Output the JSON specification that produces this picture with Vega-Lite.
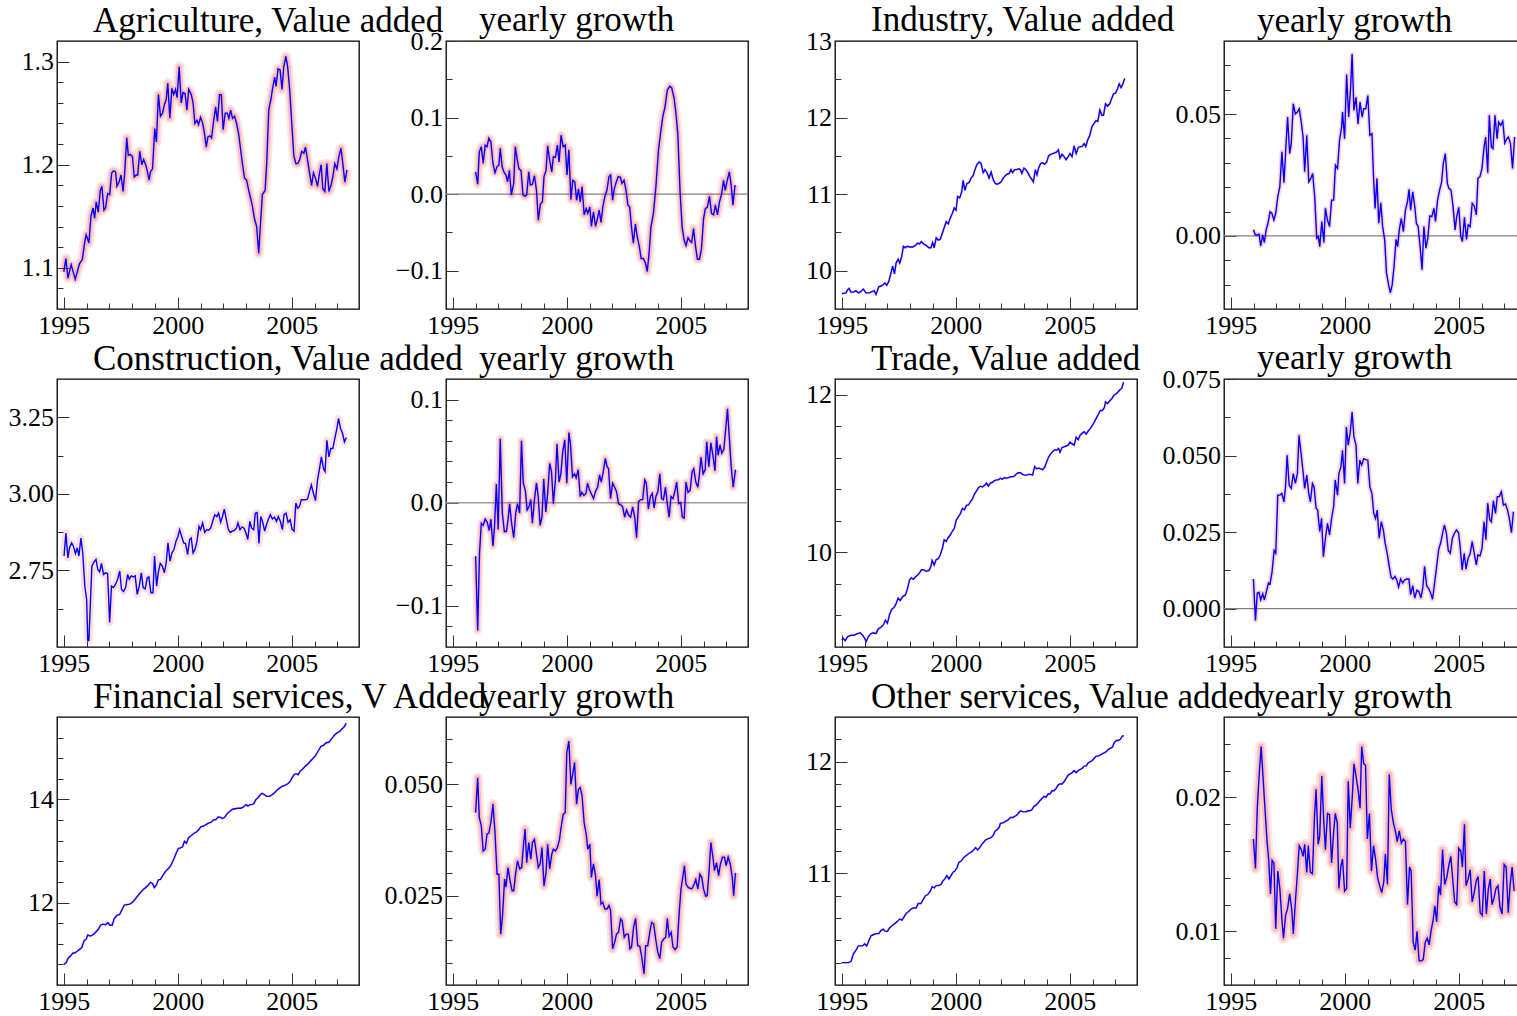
{
  "$schema": "https://vega.github.io/schema/vega-lite/v6.json",
  "padding": {"left": 7, "top": 2, "right": 0, "bottom": 0},
  "background": "white",
  "columns": 4,
  "spacing": {"row": 70, "column": 87},
  "bounds": "flush",
  "config": {
    "font": "Liberation Serif",
    "view": {"stroke": "#000", "strokeWidth": 1.3},
    "axis": {"domain": false, "grid": false, "labelFont": "Liberation Serif", "labelFontSize": 26, "labelColor": "#000", "tickColor": "#333", "tickWidth": 1, "labelFlush": false, "labelOverlap": false, "title": null, "tickCount": 100, "tickMinStep": 0.0001},
    "axisY": {"labelPadding": 15.5},
    "axisX": {"labelPadding": 15.5, "labelBaseline": "top"},
    "title": {"font": "Liberation Serif", "fontSize": 35, "fontWeight": "normal", "color": "#000", "anchor": "start", "frame": "group", "baseline": "alphabetic", "offset": 0}
  },
  "datasets": {
    "A": [{"t":1995.00,"v":1.096},{"t":1995.09,"v":1.109},{"t":1995.18,"v":1.090},{"t":1995.32,"v":1.103},{"t":1995.50,"v":1.089},{"t":1995.69,"v":1.104},{"t":1995.81,"v":1.108},{"t":1995.91,"v":1.124},{"t":1995.98,"v":1.132},{"t":1996.10,"v":1.124},{"t":1996.19,"v":1.150},{"t":1996.28,"v":1.158},{"t":1996.35,"v":1.148},{"t":1996.42,"v":1.164},{"t":1996.51,"v":1.154},{"t":1996.60,"v":1.175},{"t":1996.67,"v":1.179},{"t":1996.76,"v":1.156},{"t":1996.83,"v":1.158},{"t":1996.92,"v":1.172},{"t":1997.01,"v":1.171},{"t":1997.10,"v":1.192},{"t":1997.18,"v":1.194},{"t":1997.27,"v":1.193},{"t":1997.33,"v":1.179},{"t":1997.42,"v":1.183},{"t":1997.51,"v":1.190},{"t":1997.60,"v":1.174},{"t":1997.67,"v":1.192},{"t":1997.76,"v":1.226},{"t":1997.83,"v":1.209},{"t":1997.92,"v":1.210},{"t":1998.01,"v":1.208},{"t":1998.09,"v":1.188},{"t":1998.18,"v":1.190},{"t":1998.24,"v":1.190},{"t":1998.33,"v":1.213},{"t":1998.42,"v":1.200},{"t":1998.50,"v":1.205},{"t":1998.59,"v":1.200},{"t":1998.67,"v":1.193},{"t":1998.74,"v":1.185},{"t":1998.80,"v":1.193},{"t":1998.89,"v":1.196},{"t":1998.99,"v":1.235},{"t":1999.06,"v":1.222},{"t":1999.15,"v":1.268},{"t":1999.24,"v":1.247},{"t":1999.33,"v":1.250},{"t":1999.41,"v":1.258},{"t":1999.49,"v":1.263},{"t":1999.56,"v":1.279},{"t":1999.65,"v":1.245},{"t":1999.74,"v":1.274},{"t":1999.82,"v":1.268},{"t":1999.90,"v":1.273},{"t":1999.97,"v":1.265},{"t":2000.06,"v":1.295},{"t":2000.15,"v":1.260},{"t":2000.23,"v":1.270},{"t":2000.32,"v":1.269},{"t":2000.40,"v":1.253},{"t":2000.48,"v":1.273},{"t":2000.59,"v":1.268},{"t":2000.67,"v":1.260},{"t":2000.75,"v":1.240},{"t":2000.84,"v":1.243},{"t":2000.91,"v":1.239},{"t":2001.00,"v":1.246},{"t":2001.09,"v":1.240},{"t":2001.16,"v":1.232},{"t":2001.25,"v":1.217},{"t":2001.32,"v":1.227},{"t":2001.41,"v":1.228},{"t":2001.48,"v":1.226},{"t":2001.57,"v":1.242},{"t":2001.66,"v":1.256},{"t":2001.74,"v":1.242},{"t":2001.83,"v":1.268},{"t":2001.91,"v":1.268},{"t":2001.99,"v":1.234},{"t":2002.08,"v":1.250},{"t":2002.17,"v":1.250},{"t":2002.24,"v":1.245},{"t":2002.32,"v":1.253},{"t":2002.40,"v":1.245},{"t":2002.49,"v":1.247},{"t":2002.58,"v":1.240},{"t":2002.67,"v":1.230},{"t":2002.76,"v":1.214},{"t":2002.84,"v":1.200},{"t":2002.93,"v":1.187},{"t":2003.02,"v":1.185},{"t":2003.11,"v":1.175},{"t":2003.20,"v":1.167},{"t":2003.28,"v":1.159},{"t":2003.36,"v":1.148},{"t":2003.46,"v":1.140},{"t":2003.55,"v":1.114},{"t":2003.62,"v":1.140},{"t":2003.71,"v":1.171},{"t":2003.83,"v":1.175},{"t":2003.90,"v":1.201},{"t":2003.99,"v":1.253},{"t":2004.08,"v":1.263},{"t":2004.16,"v":1.274},{"t":2004.25,"v":1.285},{"t":2004.31,"v":1.276},{"t":2004.40,"v":1.293},{"t":2004.49,"v":1.292},{"t":2004.57,"v":1.273},{"t":2004.65,"v":1.295},{"t":2004.74,"v":1.305},{"t":2004.82,"v":1.295},{"t":2004.91,"v":1.272},{"t":2005.00,"v":1.240},{"t":2005.09,"v":1.209},{"t":2005.18,"v":1.201},{"t":2005.26,"v":1.201},{"t":2005.35,"v":1.205},{"t":2005.44,"v":1.213},{"t":2005.53,"v":1.211},{"t":2005.60,"v":1.217},{"t":2005.69,"v":1.205},{"t":2005.78,"v":1.192},{"t":2005.87,"v":1.180},{"t":2005.95,"v":1.192},{"t":2006.04,"v":1.187},{"t":2006.13,"v":1.179},{"t":2006.22,"v":1.192},{"t":2006.29,"v":1.200},{"t":2006.36,"v":1.177},{"t":2006.45,"v":1.174},{"t":2006.54,"v":1.201},{"t":2006.63,"v":1.174},{"t":2006.72,"v":1.180},{"t":2006.80,"v":1.188},{"t":2006.89,"v":1.201},{"t":2006.98,"v":1.196},{"t":2007.07,"v":1.208},{"t":2007.16,"v":1.216},{"t":2007.24,"v":1.201},{"t":2007.33,"v":1.183},{"t":2007.42,"v":1.195}],
    "AG": [{"t":1996.00,"v":0.029},{"t":1996.09,"v":0.013},{"t":1996.16,"v":0.055},{"t":1996.25,"v":0.062},{"t":1996.33,"v":0.040},{"t":1996.42,"v":0.064},{"t":1996.50,"v":0.062},{"t":1996.58,"v":0.073},{"t":1996.67,"v":0.068},{"t":1996.76,"v":0.040},{"t":1996.85,"v":0.028},{"t":1996.94,"v":0.036},{"t":1997.02,"v":0.038},{"t":1997.08,"v":0.060},{"t":1997.16,"v":0.036},{"t":1997.24,"v":0.029},{"t":1997.33,"v":0.025},{"t":1997.40,"v":0.016},{"t":1997.48,"v":0.031},{"t":1997.57,"v":-0.001},{"t":1997.67,"v":0.014},{"t":1997.74,"v":0.062},{"t":1997.83,"v":0.044},{"t":1997.90,"v":0.033},{"t":1997.99,"v":0.031},{"t":1998.08,"v":-0.001},{"t":1998.17,"v":-0.003},{"t":1998.24,"v":-0.001},{"t":1998.33,"v":0.029},{"t":1998.40,"v":0.012},{"t":1998.49,"v":0.013},{"t":1998.58,"v":0.024},{"t":1998.67,"v":0.005},{"t":1998.75,"v":-0.034},{"t":1998.84,"v":-0.013},{"t":1998.93,"v":-0.010},{"t":1999.00,"v":0.023},{"t":1999.09,"v":0.031},{"t":1999.16,"v":0.063},{"t":1999.25,"v":0.044},{"t":1999.34,"v":0.029},{"t":1999.41,"v":0.049},{"t":1999.50,"v":0.048},{"t":1999.59,"v":0.064},{"t":1999.66,"v":0.042},{"t":1999.75,"v":0.077},{"t":1999.84,"v":0.062},{"t":1999.93,"v":0.064},{"t":2000.01,"v":0.025},{"t":2000.09,"v":0.058},{"t":2000.18,"v":-0.007},{"t":2000.26,"v":0.018},{"t":2000.35,"v":0.016},{"t":2000.43,"v":-0.008},{"t":2000.51,"v":0.007},{"t":2000.59,"v":-0.010},{"t":2000.67,"v":0.010},{"t":2000.76,"v":-0.027},{"t":2000.85,"v":-0.019},{"t":2000.92,"v":-0.025},{"t":2001.01,"v":-0.017},{"t":2001.08,"v":-0.042},{"t":2001.17,"v":-0.023},{"t":2001.26,"v":-0.042},{"t":2001.33,"v":-0.034},{"t":2001.42,"v":-0.021},{"t":2001.50,"v":-0.037},{"t":2001.58,"v":-0.017},{"t":2001.67,"v":-0.003},{"t":2001.76,"v":0.005},{"t":2001.85,"v":0.023},{"t":2001.92,"v":0.025},{"t":2002.01,"v":-0.008},{"t":2002.08,"v":0.007},{"t":2002.17,"v":0.016},{"t":2002.26,"v":0.023},{"t":2002.35,"v":0.022},{"t":2002.42,"v":0.014},{"t":2002.51,"v":0.018},{"t":2002.60,"v":0.005},{"t":2002.68,"v":-0.014},{"t":2002.76,"v":-0.017},{"t":2002.84,"v":-0.043},{"t":2002.92,"v":-0.064},{"t":2003.01,"v":-0.039},{"t":2003.09,"v":-0.056},{"t":2003.18,"v":-0.068},{"t":2003.26,"v":-0.084},{"t":2003.36,"v":-0.084},{"t":2003.45,"v":-0.090},{"t":2003.53,"v":-0.101},{"t":2003.61,"v":-0.077},{"t":2003.69,"v":-0.043},{"t":2003.80,"v":-0.025},{"t":2003.91,"v":0.010},{"t":2004.02,"v":0.057},{"t":2004.12,"v":0.081},{"t":2004.21,"v":0.101},{"t":2004.31,"v":0.114},{"t":2004.41,"v":0.136},{"t":2004.52,"v":0.141},{"t":2004.60,"v":0.139},{"t":2004.71,"v":0.125},{"t":2004.79,"v":0.105},{"t":2004.87,"v":0.079},{"t":2004.97,"v":0.003},{"t":2005.06,"v":-0.043},{"t":2005.15,"v":-0.060},{"t":2005.23,"v":-0.067},{"t":2005.32,"v":-0.057},{"t":2005.40,"v":-0.061},{"t":2005.48,"v":-0.063},{"t":2005.56,"v":-0.045},{"t":2005.65,"v":-0.069},{"t":2005.73,"v":-0.085},{"t":2005.82,"v":-0.085},{"t":2005.91,"v":-0.071},{"t":2006.00,"v":-0.032},{"t":2006.08,"v":-0.019},{"t":2006.17,"v":-0.017},{"t":2006.26,"v":-0.003},{"t":2006.35,"v":-0.025},{"t":2006.44,"v":-0.027},{"t":2006.52,"v":-0.014},{"t":2006.61,"v":-0.027},{"t":2006.70,"v":-0.010},{"t":2006.79,"v":0.000},{"t":2006.88,"v":0.018},{"t":2006.95,"v":0.005},{"t":2007.04,"v":0.018},{"t":2007.13,"v":0.029},{"t":2007.21,"v":0.012},{"t":2007.29,"v":-0.014},{"t":2007.38,"v":0.012}],
    "I": [{"t":1995.00,"v":9.70},{"t":1995.18,"v":9.71},{"t":1995.25,"v":9.75},{"t":1995.32,"v":9.77},{"t":1995.40,"v":9.72},{"t":1995.51,"v":9.72},{"t":1995.62,"v":9.74},{"t":1995.73,"v":9.71},{"t":1995.84,"v":9.73},{"t":1995.94,"v":9.76},{"t":1996.06,"v":9.71},{"t":1996.20,"v":9.71},{"t":1996.35,"v":9.73},{"t":1996.42,"v":9.74},{"t":1996.50,"v":9.69},{"t":1996.62,"v":9.79},{"t":1996.72,"v":9.80},{"t":1996.82,"v":9.82},{"t":1996.89,"v":9.84},{"t":1996.97,"v":9.81},{"t":1997.06,"v":9.86},{"t":1997.14,"v":9.95},{"t":1997.23,"v":10.06},{"t":1997.31,"v":9.96},{"t":1997.38,"v":10.10},{"t":1997.47,"v":10.15},{"t":1997.54,"v":10.10},{"t":1997.63,"v":10.19},{"t":1997.70,"v":10.32},{"t":1997.78,"v":10.30},{"t":1997.86,"v":10.32},{"t":1997.97,"v":10.31},{"t":1998.11,"v":10.31},{"t":1998.23,"v":10.33},{"t":1998.32,"v":10.36},{"t":1998.41,"v":10.35},{"t":1998.49,"v":10.38},{"t":1998.58,"v":10.35},{"t":1998.70,"v":10.33},{"t":1998.82,"v":10.30},{"t":1998.91,"v":10.30},{"t":1998.98,"v":10.37},{"t":1999.05,"v":10.30},{"t":1999.14,"v":10.43},{"t":1999.23,"v":10.40},{"t":1999.32,"v":10.41},{"t":1999.41,"v":10.49},{"t":1999.49,"v":10.56},{"t":1999.58,"v":10.64},{"t":1999.67,"v":10.61},{"t":1999.76,"v":10.69},{"t":1999.85,"v":10.75},{"t":1999.93,"v":10.82},{"t":2000.01,"v":10.79},{"t":2000.08,"v":10.97},{"t":2000.17,"v":10.95},{"t":2000.26,"v":11.03},{"t":2000.32,"v":11.18},{"t":2000.40,"v":11.05},{"t":2000.49,"v":11.14},{"t":2000.58,"v":11.15},{"t":2000.67,"v":11.21},{"t":2000.76,"v":11.24},{"t":2000.84,"v":11.32},{"t":2000.93,"v":11.39},{"t":2001.02,"v":11.42},{"t":2001.11,"v":11.40},{"t":2001.20,"v":11.28},{"t":2001.28,"v":11.32},{"t":2001.37,"v":11.28},{"t":2001.46,"v":11.21},{"t":2001.55,"v":11.29},{"t":2001.64,"v":11.19},{"t":2001.73,"v":11.14},{"t":2001.81,"v":11.13},{"t":2001.90,"v":11.14},{"t":2001.99,"v":11.16},{"t":2002.08,"v":11.21},{"t":2002.17,"v":11.24},{"t":2002.25,"v":11.26},{"t":2002.34,"v":11.27},{"t":2002.42,"v":11.32},{"t":2002.49,"v":11.28},{"t":2002.58,"v":11.32},{"t":2002.67,"v":11.32},{"t":2002.75,"v":11.33},{"t":2002.83,"v":11.32},{"t":2002.90,"v":11.27},{"t":2002.99,"v":11.34},{"t":2003.08,"v":11.32},{"t":2003.16,"v":11.28},{"t":2003.25,"v":11.23},{"t":2003.34,"v":11.19},{"t":2003.40,"v":11.16},{"t":2003.49,"v":11.32},{"t":2003.56,"v":11.25},{"t":2003.63,"v":11.34},{"t":2003.72,"v":11.40},{"t":2003.81,"v":11.41},{"t":2003.90,"v":11.39},{"t":2003.99,"v":11.42},{"t":2004.07,"v":11.50},{"t":2004.16,"v":11.52},{"t":2004.25,"v":11.53},{"t":2004.34,"v":11.54},{"t":2004.43,"v":11.55},{"t":2004.50,"v":11.58},{"t":2004.57,"v":11.47},{"t":2004.66,"v":11.52},{"t":2004.75,"v":11.49},{"t":2004.84,"v":11.45},{"t":2004.93,"v":11.49},{"t":2005.01,"v":11.53},{"t":2005.10,"v":11.49},{"t":2005.19,"v":11.63},{"t":2005.28,"v":11.53},{"t":2005.37,"v":11.61},{"t":2005.46,"v":11.62},{"t":2005.54,"v":11.62},{"t":2005.63,"v":11.66},{"t":2005.70,"v":11.62},{"t":2005.79,"v":11.71},{"t":2005.88,"v":11.77},{"t":2005.97,"v":11.88},{"t":2006.06,"v":11.92},{"t":2006.15,"v":11.96},{"t":2006.23,"v":11.95},{"t":2006.32,"v":12.10},{"t":2006.41,"v":12.03},{"t":2006.48,"v":12.03},{"t":2006.57,"v":12.18},{"t":2006.66,"v":12.15},{"t":2006.75,"v":12.18},{"t":2006.84,"v":12.25},{"t":2006.92,"v":12.31},{"t":2007.01,"v":12.32},{"t":2007.10,"v":12.38},{"t":2007.17,"v":12.44},{"t":2007.25,"v":12.39},{"t":2007.33,"v":12.44},{"t":2007.41,"v":12.51}],
    "IG": [{"t":1995.99,"v":0.0025},{"t":1996.08,"v":0.0004},{"t":1996.16,"v":0.0004},{"t":1996.24,"v":0.0007},{"t":1996.31,"v":-0.0041},{"t":1996.40,"v":0.0004},{"t":1996.47,"v":-0.0027},{"t":1996.55,"v":0.0025},{"t":1996.63,"v":0.0052},{"t":1996.72,"v":0.0099},{"t":1996.80,"v":0.0093},{"t":1996.89,"v":0.0065},{"t":1996.97,"v":0.0093},{"t":1997.06,"v":0.0161},{"t":1997.15,"v":0.0202},{"t":1997.24,"v":0.0345},{"t":1997.33,"v":0.0218},{"t":1997.40,"v":0.0338},{"t":1997.49,"v":0.0488},{"t":1997.58,"v":0.0338},{"t":1997.65,"v":0.0379},{"t":1997.74,"v":0.0542},{"t":1997.83,"v":0.0501},{"t":1997.92,"v":0.0508},{"t":1998.00,"v":0.0522},{"t":1998.09,"v":0.0467},{"t":1998.17,"v":0.0406},{"t":1998.24,"v":0.0263},{"t":1998.33,"v":0.0413},{"t":1998.42,"v":0.0222},{"t":1998.51,"v":0.0236},{"t":1998.59,"v":0.0256},{"t":1998.68,"v":0.0161},{"t":1998.77,"v":-0.0010},{"t":1998.84,"v":-0.0003},{"t":1998.90,"v":-0.0044},{"t":1998.99,"v":0.0059},{"t":1999.08,"v":-0.0027},{"t":1999.15,"v":0.0113},{"t":1999.24,"v":0.0065},{"t":1999.33,"v":0.0038},{"t":1999.42,"v":0.0147},{"t":1999.51,"v":0.0147},{"t":1999.59,"v":0.0290},{"t":1999.68,"v":0.0277},{"t":1999.77,"v":0.0392},{"t":1999.86,"v":0.0447},{"t":1999.90,"v":0.0508},{"t":1999.99,"v":0.0399},{"t":2000.08,"v":0.0662},{"t":2000.17,"v":0.0488},{"t":2000.26,"v":0.0617},{"t":2000.32,"v":0.0747},{"t":2000.40,"v":0.0515},{"t":2000.49,"v":0.0569},{"t":2000.58,"v":0.0460},{"t":2000.67,"v":0.0549},{"t":2000.76,"v":0.0488},{"t":2000.83,"v":0.0522},{"t":2000.92,"v":0.0522},{"t":2001.01,"v":0.0576},{"t":2001.10,"v":0.0413},{"t":2001.19,"v":0.0420},{"t":2001.26,"v":0.0243},{"t":2001.33,"v":0.0113},{"t":2001.41,"v":0.0236},{"t":2001.49,"v":0.0052},{"t":2001.58,"v":0.0136},{"t":2001.66,"v":0.0038},{"t":2001.75,"v":-0.0016},{"t":2001.83,"v":-0.0153},{"t":2001.92,"v":-0.0200},{"t":2002.00,"v":-0.0234},{"t":2002.08,"v":-0.0200},{"t":2002.16,"v":-0.0125},{"t":2002.25,"v":-0.0014},{"t":2002.32,"v":-0.0044},{"t":2002.39,"v":0.0025},{"t":2002.48,"v":0.0072},{"t":2002.57,"v":0.0018},{"t":2002.66,"v":0.0106},{"t":2002.75,"v":0.0140},{"t":2002.82,"v":0.0191},{"t":2002.89,"v":0.0106},{"t":2002.98,"v":0.0181},{"t":2003.07,"v":0.0120},{"t":2003.14,"v":0.0052},{"t":2003.22,"v":0.0038},{"t":2003.31,"v":-0.0050},{"t":2003.39,"v":-0.0139},{"t":2003.47,"v":0.0038},{"t":2003.56,"v":-0.0050},{"t":2003.64,"v":-0.0010},{"t":2003.73,"v":0.0082},{"t":2003.82,"v":0.0079},{"t":2003.91,"v":0.0113},{"t":2003.98,"v":0.0059},{"t":2004.07,"v":0.0147},{"t":2004.16,"v":0.0188},{"t":2004.25,"v":0.0222},{"t":2004.32,"v":0.0297},{"t":2004.41,"v":0.0338},{"t":2004.50,"v":0.0215},{"t":2004.57,"v":0.0195},{"t":2004.66,"v":0.0188},{"t":2004.75,"v":0.0120},{"t":2004.84,"v":0.0025},{"t":2004.91,"v":0.0079},{"t":2005.00,"v":0.0117},{"t":2005.09,"v":-0.0003},{"t":2005.16,"v":-0.0023},{"t":2005.25,"v":0.0076},{"t":2005.34,"v":-0.0014},{"t":2005.41,"v":0.0045},{"t":2005.50,"v":0.0038},{"t":2005.59,"v":0.0134},{"t":2005.68,"v":0.0123},{"t":2005.77,"v":0.0086},{"t":2005.84,"v":0.0236},{"t":2005.93,"v":0.0243},{"t":2006.02,"v":0.0277},{"t":2006.11,"v":0.0365},{"t":2006.18,"v":0.0406},{"t":2006.27,"v":0.0259},{"t":2006.34,"v":0.0495},{"t":2006.43,"v":0.0365},{"t":2006.50,"v":0.0358},{"t":2006.59,"v":0.0495},{"t":2006.68,"v":0.0399},{"t":2006.75,"v":0.0467},{"t":2006.84,"v":0.0454},{"t":2006.93,"v":0.0471},{"t":2007.02,"v":0.0381},{"t":2007.11,"v":0.0399},{"t":2007.18,"v":0.0406},{"t":2007.27,"v":0.0379},{"t":2007.36,"v":0.0277},{"t":2007.45,"v":0.0406}],
    "C": [{"t":1995.01,"v":2.797},{"t":1995.09,"v":2.872},{"t":1995.18,"v":2.791},{"t":1995.25,"v":2.824},{"t":1995.34,"v":2.840},{"t":1995.42,"v":2.829},{"t":1995.51,"v":2.805},{"t":1995.59,"v":2.824},{"t":1995.66,"v":2.797},{"t":1995.75,"v":2.856},{"t":1995.83,"v":2.807},{"t":1995.92,"v":2.699},{"t":1996.00,"v":2.656},{"t":1996.05,"v":2.521},{"t":1996.10,"v":2.521},{"t":1996.16,"v":2.634},{"t":1996.23,"v":2.764},{"t":1996.32,"v":2.777},{"t":1996.41,"v":2.786},{"t":1996.49,"v":2.753},{"t":1996.57,"v":2.745},{"t":1996.65,"v":2.773},{"t":1996.74,"v":2.737},{"t":1996.83,"v":2.742},{"t":1996.92,"v":2.740},{"t":1997.01,"v":2.580},{"t":1997.09,"v":2.699},{"t":1997.18,"v":2.694},{"t":1997.27,"v":2.705},{"t":1997.36,"v":2.721},{"t":1997.45,"v":2.748},{"t":1997.53,"v":2.688},{"t":1997.62,"v":2.681},{"t":1997.71,"v":2.694},{"t":1997.80,"v":2.737},{"t":1997.87,"v":2.721},{"t":1997.96,"v":2.732},{"t":1998.05,"v":2.729},{"t":1998.13,"v":2.732},{"t":1998.22,"v":2.672},{"t":1998.31,"v":2.699},{"t":1998.40,"v":2.742},{"t":1998.48,"v":2.694},{"t":1998.57,"v":2.690},{"t":1998.66,"v":2.726},{"t":1998.73,"v":2.729},{"t":1998.82,"v":2.677},{"t":1998.91,"v":2.677},{"t":1998.98,"v":2.797},{"t":1999.07,"v":2.699},{"t":1999.14,"v":2.742},{"t":1999.23,"v":2.773},{"t":1999.32,"v":2.764},{"t":1999.41,"v":2.742},{"t":1999.49,"v":2.775},{"t":1999.57,"v":2.840},{"t":1999.66,"v":2.780},{"t":1999.74,"v":2.807},{"t":1999.83,"v":2.818},{"t":1999.92,"v":2.845},{"t":2000.01,"v":2.861},{"t":2000.08,"v":2.883},{"t":2000.17,"v":2.861},{"t":2000.26,"v":2.840},{"t":2000.34,"v":2.838},{"t":2000.43,"v":2.802},{"t":2000.52,"v":2.851},{"t":2000.59,"v":2.856},{"t":2000.67,"v":2.807},{"t":2000.75,"v":2.818},{"t":2000.84,"v":2.845},{"t":2000.93,"v":2.894},{"t":2001.00,"v":2.883},{"t":2001.09,"v":2.905},{"t":2001.18,"v":2.874},{"t":2001.27,"v":2.883},{"t":2001.35,"v":2.881},{"t":2001.44,"v":2.888},{"t":2001.53,"v":2.910},{"t":2001.62,"v":2.932},{"t":2001.71,"v":2.926},{"t":2001.79,"v":2.937},{"t":2001.88,"v":2.907},{"t":2001.96,"v":2.926},{"t":2002.04,"v":2.950},{"t":2002.13,"v":2.916},{"t":2002.22,"v":2.883},{"t":2002.31,"v":2.874},{"t":2002.39,"v":2.878},{"t":2002.48,"v":2.881},{"t":2002.57,"v":2.888},{"t":2002.64,"v":2.905},{"t":2002.73,"v":2.883},{"t":2002.82,"v":2.892},{"t":2002.91,"v":2.888},{"t":2002.99,"v":2.872},{"t":2003.07,"v":2.851},{"t":2003.16,"v":2.910},{"t":2003.24,"v":2.888},{"t":2003.33,"v":2.883},{"t":2003.40,"v":2.937},{"t":2003.48,"v":2.939},{"t":2003.56,"v":2.838},{"t":2003.64,"v":2.926},{"t":2003.73,"v":2.907},{"t":2003.81,"v":2.878},{"t":2003.89,"v":2.899},{"t":2003.97,"v":2.916},{"t":2004.06,"v":2.932},{"t":2004.15,"v":2.918},{"t":2004.24,"v":2.924},{"t":2004.33,"v":2.910},{"t":2004.41,"v":2.926},{"t":2004.50,"v":2.910},{"t":2004.59,"v":2.883},{"t":2004.66,"v":2.932},{"t":2004.75,"v":2.937},{"t":2004.84,"v":2.907},{"t":2004.93,"v":2.916},{"t":2005.01,"v":2.885},{"t":2005.10,"v":2.878},{"t":2005.18,"v":2.970},{"t":2005.26,"v":2.953},{"t":2005.34,"v":2.959},{"t":2005.42,"v":2.981},{"t":2005.51,"v":2.981},{"t":2005.60,"v":2.981},{"t":2005.69,"v":2.983},{"t":2005.78,"v":3.008},{"t":2005.86,"v":3.029},{"t":2005.95,"v":3.002},{"t":2006.04,"v":2.978},{"t":2006.13,"v":3.045},{"t":2006.22,"v":3.083},{"t":2006.30,"v":3.121},{"t":2006.39,"v":3.083},{"t":2006.46,"v":3.073},{"t":2006.54,"v":3.175},{"t":2006.63,"v":3.121},{"t":2006.71,"v":3.148},{"t":2006.80,"v":3.148},{"t":2006.89,"v":3.181},{"t":2006.98,"v":3.213},{"t":2007.05,"v":3.246},{"t":2007.14,"v":3.213},{"t":2007.23,"v":3.197},{"t":2007.31,"v":3.170},{"t":2007.40,"v":3.184}],
    "CG": [{"t":1996.00,"v":-0.052},{"t":1996.09,"v":-0.124},{"t":1996.17,"v":-0.049},{"t":1996.25,"v":-0.020},{"t":1996.33,"v":-0.022},{"t":1996.42,"v":-0.016},{"t":1996.51,"v":-0.019},{"t":1996.60,"v":-0.027},{"t":1996.67,"v":-0.016},{"t":1996.76,"v":-0.042},{"t":1996.83,"v":-0.023},{"t":1996.91,"v":0.018},{"t":1996.99,"v":-0.026},{"t":1997.08,"v":0.062},{"t":1997.17,"v":-0.010},{"t":1997.26,"v":-0.028},{"t":1997.35,"v":-0.028},{"t":1997.42,"v":-0.017},{"t":1997.49,"v":-0.001},{"t":1997.58,"v":-0.020},{"t":1997.67,"v":-0.034},{"t":1997.76,"v":-0.010},{"t":1997.84,"v":-0.001},{"t":1997.93,"v":-0.010},{"t":1998.01,"v":0.060},{"t":1998.09,"v":0.019},{"t":1998.18,"v":0.012},{"t":1998.26,"v":-0.007},{"t":1998.34,"v":-0.004},{"t":1998.42,"v":0.003},{"t":1998.49,"v":-0.020},{"t":1998.58,"v":0.003},{"t":1998.67,"v":0.019},{"t":1998.74,"v":0.007},{"t":1998.83,"v":-0.022},{"t":1998.91,"v":-0.014},{"t":1998.99,"v":0.023},{"t":1999.08,"v":-0.009},{"t":1999.16,"v":0.009},{"t":1999.25,"v":0.038},{"t":1999.33,"v":0.030},{"t":1999.41,"v":-0.001},{"t":1999.50,"v":0.022},{"t":1999.57,"v":0.057},{"t":1999.66,"v":0.020},{"t":1999.74,"v":0.028},{"t":1999.82,"v":0.049},{"t":1999.91,"v":0.061},{"t":2000.00,"v":0.019},{"t":2000.09,"v":0.068},{"t":2000.16,"v":0.057},{"t":2000.25,"v":0.025},{"t":2000.34,"v":0.028},{"t":2000.41,"v":0.024},{"t":2000.50,"v":0.032},{"t":2000.59,"v":0.006},{"t":2000.66,"v":0.010},{"t":2000.75,"v":0.007},{"t":2000.84,"v":0.009},{"t":2000.91,"v":0.019},{"t":2001.00,"v":0.012},{"t":2001.09,"v":0.008},{"t":2001.17,"v":0.004},{"t":2001.26,"v":0.011},{"t":2001.35,"v":0.015},{"t":2001.44,"v":0.027},{"t":2001.51,"v":0.020},{"t":2001.60,"v":0.030},{"t":2001.69,"v":0.043},{"t":2001.77,"v":0.035},{"t":2001.83,"v":0.033},{"t":2001.92,"v":0.004},{"t":2002.01,"v":0.019},{"t":2002.10,"v":0.015},{"t":2002.18,"v":0.011},{"t":2002.27,"v":-0.001},{"t":2002.36,"v":-0.002},{"t":2002.45,"v":-0.004},{"t":2002.54,"v":-0.014},{"t":2002.62,"v":-0.007},{"t":2002.71,"v":-0.012},{"t":2002.80,"v":-0.014},{"t":2002.89,"v":-0.004},{"t":2002.98,"v":-0.014},{"t":2003.06,"v":-0.034},{"t":2003.15,"v":0.001},{"t":2003.24,"v":0.003},{"t":2003.33,"v":0.003},{"t":2003.42,"v":0.022},{"t":2003.49,"v":0.019},{"t":2003.58,"v":-0.006},{"t":2003.67,"v":0.006},{"t":2003.75,"v":0.009},{"t":2003.83,"v":-0.005},{"t":2003.91,"v":0.006},{"t":2004.00,"v":0.011},{"t":2004.08,"v":0.028},{"t":2004.16,"v":0.004},{"t":2004.24,"v":0.003},{"t":2004.33,"v":0.015},{"t":2004.41,"v":-0.001},{"t":2004.49,"v":-0.014},{"t":2004.57,"v":0.006},{"t":2004.66,"v":0.004},{"t":2004.74,"v":0.011},{"t":2004.82,"v":0.020},{"t":2004.91,"v":-0.001},{"t":2005.00,"v":0.000},{"t":2005.07,"v":-0.014},{"t":2005.15,"v":-0.015},{"t":2005.23,"v":0.020},{"t":2005.32,"v":0.010},{"t":2005.41,"v":0.012},{"t":2005.50,"v":0.030},{"t":2005.57,"v":0.033},{"t":2005.66,"v":0.020},{"t":2005.75,"v":0.015},{"t":2005.82,"v":0.028},{"t":2005.89,"v":0.044},{"t":2005.98,"v":0.028},{"t":2006.07,"v":0.032},{"t":2006.14,"v":0.059},{"t":2006.23,"v":0.035},{"t":2006.32,"v":0.058},{"t":2006.41,"v":0.046},{"t":2006.50,"v":0.031},{"t":2006.57,"v":0.064},{"t":2006.64,"v":0.046},{"t":2006.72,"v":0.056},{"t":2006.80,"v":0.048},{"t":2006.89,"v":0.052},{"t":2006.98,"v":0.073},{"t":2007.05,"v":0.091},{"t":2007.14,"v":0.060},{"t":2007.21,"v":0.036},{"t":2007.30,"v":0.015},{"t":2007.40,"v":0.032}],
    "T": [{"t":1995.00,"v":8.89},{"t":1995.06,"v":8.91},{"t":1995.15,"v":8.88},{"t":1995.25,"v":8.93},{"t":1995.40,"v":8.95},{"t":1995.54,"v":8.95},{"t":1995.69,"v":8.97},{"t":1995.81,"v":8.98},{"t":1995.91,"v":8.95},{"t":1996.00,"v":8.91},{"t":1996.07,"v":8.87},{"t":1996.16,"v":8.93},{"t":1996.28,"v":8.97},{"t":1996.38,"v":8.98},{"t":1996.50,"v":8.97},{"t":1996.60,"v":9.03},{"t":1996.72,"v":9.05},{"t":1996.82,"v":9.08},{"t":1996.91,"v":9.14},{"t":1997.00,"v":9.10},{"t":1997.09,"v":9.21},{"t":1997.19,"v":9.28},{"t":1997.29,"v":9.30},{"t":1997.38,"v":9.35},{"t":1997.47,"v":9.42},{"t":1997.56,"v":9.39},{"t":1997.67,"v":9.44},{"t":1997.79,"v":9.46},{"t":1997.88,"v":9.54},{"t":1997.97,"v":9.65},{"t":1998.05,"v":9.68},{"t":1998.14,"v":9.66},{"t":1998.23,"v":9.69},{"t":1998.32,"v":9.71},{"t":1998.41,"v":9.74},{"t":1998.49,"v":9.78},{"t":1998.58,"v":9.78},{"t":1998.70,"v":9.76},{"t":1998.82,"v":9.77},{"t":1998.91,"v":9.82},{"t":1998.96,"v":9.90},{"t":1999.05,"v":9.84},{"t":1999.14,"v":9.91},{"t":1999.23,"v":9.92},{"t":1999.32,"v":9.97},{"t":1999.41,"v":10.05},{"t":1999.49,"v":10.16},{"t":1999.58,"v":10.14},{"t":1999.67,"v":10.19},{"t":1999.76,"v":10.22},{"t":1999.85,"v":10.27},{"t":1999.93,"v":10.30},{"t":2000.02,"v":10.41},{"t":2000.11,"v":10.45},{"t":2000.20,"v":10.49},{"t":2000.29,"v":10.56},{"t":2000.38,"v":10.54},{"t":2000.47,"v":10.60},{"t":2000.55,"v":10.60},{"t":2000.64,"v":10.64},{"t":2000.73,"v":10.68},{"t":2000.82,"v":10.74},{"t":2000.91,"v":10.78},{"t":2000.99,"v":10.82},{"t":2001.08,"v":10.84},{"t":2001.17,"v":10.83},{"t":2001.26,"v":10.85},{"t":2001.35,"v":10.88},{"t":2001.43,"v":10.84},{"t":2001.52,"v":10.88},{"t":2001.61,"v":10.89},{"t":2001.70,"v":10.91},{"t":2001.79,"v":10.92},{"t":2001.87,"v":10.92},{"t":2001.96,"v":10.94},{"t":2002.05,"v":10.93},{"t":2002.14,"v":10.95},{"t":2002.22,"v":10.94},{"t":2002.31,"v":10.95},{"t":2002.40,"v":10.96},{"t":2002.49,"v":10.96},{"t":2002.58,"v":10.97},{"t":2002.67,"v":11.00},{"t":2002.75,"v":11.01},{"t":2002.84,"v":11.01},{"t":2002.93,"v":10.99},{"t":2003.02,"v":10.98},{"t":2003.11,"v":10.98},{"t":2003.19,"v":10.99},{"t":2003.28,"v":10.99},{"t":2003.37,"v":10.98},{"t":2003.46,"v":11.09},{"t":2003.55,"v":11.06},{"t":2003.63,"v":11.07},{"t":2003.72,"v":11.06},{"t":2003.81,"v":11.05},{"t":2003.90,"v":11.08},{"t":2003.99,"v":11.15},{"t":2004.07,"v":11.21},{"t":2004.16,"v":11.25},{"t":2004.25,"v":11.28},{"t":2004.34,"v":11.30},{"t":2004.43,"v":11.30},{"t":2004.51,"v":11.32},{"t":2004.57,"v":11.27},{"t":2004.66,"v":11.33},{"t":2004.75,"v":11.34},{"t":2004.84,"v":11.35},{"t":2004.93,"v":11.36},{"t":2005.01,"v":11.40},{"t":2005.10,"v":11.38},{"t":2005.19,"v":11.36},{"t":2005.28,"v":11.46},{"t":2005.37,"v":11.43},{"t":2005.46,"v":11.49},{"t":2005.54,"v":11.51},{"t":2005.63,"v":11.53},{"t":2005.72,"v":11.50},{"t":2005.81,"v":11.54},{"t":2005.90,"v":11.57},{"t":2005.99,"v":11.61},{"t":2006.07,"v":11.65},{"t":2006.16,"v":11.70},{"t":2006.25,"v":11.75},{"t":2006.34,"v":11.80},{"t":2006.43,"v":11.80},{"t":2006.52,"v":11.84},{"t":2006.57,"v":11.91},{"t":2006.66,"v":11.89},{"t":2006.75,"v":11.92},{"t":2006.84,"v":11.95},{"t":2006.93,"v":11.99},{"t":2007.02,"v":12.01},{"t":2007.10,"v":12.03},{"t":2007.19,"v":12.06},{"t":2007.28,"v":12.08},{"t":2007.36,"v":12.16}],
    "TG": [{"t":1995.99,"v":0.0097},{"t":1996.08,"v":-0.0038},{"t":1996.16,"v":0.0051},{"t":1996.24,"v":0.0053},{"t":1996.31,"v":0.0029},{"t":1996.40,"v":0.0049},{"t":1996.47,"v":0.0029},{"t":1996.56,"v":0.0056},{"t":1996.65,"v":0.0084},{"t":1996.72,"v":0.0081},{"t":1996.81,"v":0.0121},{"t":1996.90,"v":0.0190},{"t":1996.97,"v":0.0181},{"t":1997.06,"v":0.0371},{"t":1997.15,"v":0.0371},{"t":1997.24,"v":0.0376},{"t":1997.33,"v":0.0349},{"t":1997.40,"v":0.0398},{"t":1997.47,"v":0.0501},{"t":1997.56,"v":0.0403},{"t":1997.65,"v":0.0393},{"t":1997.74,"v":0.0441},{"t":1997.83,"v":0.0409},{"t":1997.92,"v":0.0441},{"t":1997.99,"v":0.0566},{"t":1998.08,"v":0.0507},{"t":1998.17,"v":0.0447},{"t":1998.24,"v":0.0393},{"t":1998.33,"v":0.0436},{"t":1998.42,"v":0.0376},{"t":1998.49,"v":0.0349},{"t":1998.58,"v":0.0409},{"t":1998.65,"v":0.0398},{"t":1998.74,"v":0.0328},{"t":1998.81,"v":0.0322},{"t":1998.90,"v":0.0252},{"t":1998.98,"v":0.0295},{"t":1999.06,"v":0.0170},{"t":1999.15,"v":0.0230},{"t":1999.24,"v":0.0279},{"t":1999.33,"v":0.0241},{"t":1999.42,"v":0.0295},{"t":1999.51,"v":0.0333},{"t":1999.58,"v":0.0420},{"t":1999.68,"v":0.0371},{"t":1999.74,"v":0.0441},{"t":1999.83,"v":0.0463},{"t":1999.90,"v":0.0517},{"t":1999.99,"v":0.0409},{"t":2000.07,"v":0.0593},{"t":2000.15,"v":0.0534},{"t":2000.24,"v":0.0577},{"t":2000.32,"v":0.0642},{"t":2000.40,"v":0.0561},{"t":2000.49,"v":0.0534},{"t":2000.57,"v":0.0409},{"t":2000.66,"v":0.0485},{"t":2000.74,"v":0.0469},{"t":2000.83,"v":0.0490},{"t":2000.92,"v":0.0487},{"t":2001.01,"v":0.0485},{"t":2001.10,"v":0.0398},{"t":2001.19,"v":0.0376},{"t":2001.27,"v":0.0311},{"t":2001.35,"v":0.0295},{"t":2001.42,"v":0.0322},{"t":2001.51,"v":0.0230},{"t":2001.60,"v":0.0284},{"t":2001.69,"v":0.0257},{"t":2001.77,"v":0.0214},{"t":2001.86,"v":0.0181},{"t":2001.95,"v":0.0138},{"t":2002.03,"v":0.0103},{"t":2002.11,"v":0.0097},{"t":2002.20,"v":0.0105},{"t":2002.28,"v":0.0094},{"t":2002.36,"v":0.0071},{"t":2002.45,"v":0.0097},{"t":2002.54,"v":0.0084},{"t":2002.63,"v":0.0094},{"t":2002.72,"v":0.0097},{"t":2002.81,"v":0.0097},{"t":2002.89,"v":0.0046},{"t":2002.98,"v":0.0075},{"t":2003.07,"v":0.0035},{"t":2003.16,"v":0.0060},{"t":2003.25,"v":0.0056},{"t":2003.34,"v":0.0035},{"t":2003.42,"v":0.0067},{"t":2003.50,"v":0.0138},{"t":2003.59,"v":0.0075},{"t":2003.67,"v":0.0067},{"t":2003.76,"v":0.0053},{"t":2003.85,"v":0.0031},{"t":2003.94,"v":0.0084},{"t":2004.03,"v":0.0138},{"t":2004.12,"v":0.0194},{"t":2004.21,"v":0.0216},{"t":2004.29,"v":0.0246},{"t":2004.37,"v":0.0273},{"t":2004.46,"v":0.0246},{"t":2004.54,"v":0.0190},{"t":2004.63,"v":0.0181},{"t":2004.72,"v":0.0230},{"t":2004.81,"v":0.0246},{"t":2004.90,"v":0.0257},{"t":2004.99,"v":0.0248},{"t":2005.06,"v":0.0203},{"t":2005.15,"v":0.0127},{"t":2005.24,"v":0.0181},{"t":2005.32,"v":0.0129},{"t":2005.41,"v":0.0165},{"t":2005.50,"v":0.0179},{"t":2005.59,"v":0.0219},{"t":2005.68,"v":0.0181},{"t":2005.77,"v":0.0143},{"t":2005.84,"v":0.0176},{"t":2005.93,"v":0.0172},{"t":2006.02,"v":0.0197},{"t":2006.11,"v":0.0284},{"t":2006.19,"v":0.0225},{"t":2006.27,"v":0.0344},{"t":2006.36,"v":0.0290},{"t":2006.43,"v":0.0284},{"t":2006.52,"v":0.0352},{"t":2006.61,"v":0.0311},{"t":2006.69,"v":0.0366},{"t":2006.78,"v":0.0366},{"t":2006.87,"v":0.0382},{"t":2006.96,"v":0.0338},{"t":2007.05,"v":0.0342},{"t":2007.14,"v":0.0322},{"t":2007.22,"v":0.0295},{"t":2007.31,"v":0.0248},{"t":2007.40,"v":0.0317}],
    "F": [{"t":1995.00,"v":10.80},{"t":1995.10,"v":10.83},{"t":1995.19,"v":10.92},{"t":1995.31,"v":10.97},{"t":1995.40,"v":11.02},{"t":1995.48,"v":11.02},{"t":1995.60,"v":11.06},{"t":1995.72,"v":11.10},{"t":1995.79,"v":11.13},{"t":1995.89,"v":11.26},{"t":1995.98,"v":11.29},{"t":1996.05,"v":11.37},{"t":1996.16,"v":11.35},{"t":1996.27,"v":11.37},{"t":1996.39,"v":11.42},{"t":1996.51,"v":11.48},{"t":1996.61,"v":11.56},{"t":1996.71,"v":11.58},{"t":1996.83,"v":11.57},{"t":1996.93,"v":11.61},{"t":1997.02,"v":11.56},{"t":1997.12,"v":11.56},{"t":1997.21,"v":11.69},{"t":1997.33,"v":11.75},{"t":1997.45,"v":11.77},{"t":1997.56,"v":11.87},{"t":1997.65,"v":11.95},{"t":1997.77,"v":11.96},{"t":1997.89,"v":11.97},{"t":1998.00,"v":12.00},{"t":1998.12,"v":12.06},{"t":1998.24,"v":12.13},{"t":1998.36,"v":12.19},{"t":1998.47,"v":12.25},{"t":1998.59,"v":12.29},{"t":1998.71,"v":12.34},{"t":1998.80,"v":12.39},{"t":1998.89,"v":12.37},{"t":1998.97,"v":12.29},{"t":1999.06,"v":12.34},{"t":1999.15,"v":12.44},{"t":1999.24,"v":12.45},{"t":1999.35,"v":12.53},{"t":1999.47,"v":12.61},{"t":1999.59,"v":12.66},{"t":1999.68,"v":12.71},{"t":1999.77,"v":12.79},{"t":1999.85,"v":12.87},{"t":1999.94,"v":12.97},{"t":2000.03,"v":13.05},{"t":2000.12,"v":13.06},{"t":2000.21,"v":13.08},{"t":2000.29,"v":13.19},{"t":2000.38,"v":13.15},{"t":2000.47,"v":13.26},{"t":2000.59,"v":13.30},{"t":2000.70,"v":13.34},{"t":2000.82,"v":13.37},{"t":2000.92,"v":13.41},{"t":2001.00,"v":13.47},{"t":2001.11,"v":13.48},{"t":2001.23,"v":13.51},{"t":2001.35,"v":13.54},{"t":2001.47,"v":13.56},{"t":2001.55,"v":13.60},{"t":2001.67,"v":13.61},{"t":2001.77,"v":13.66},{"t":2001.88,"v":13.65},{"t":2001.96,"v":13.63},{"t":2002.07,"v":13.66},{"t":2002.17,"v":13.73},{"t":2002.29,"v":13.77},{"t":2002.40,"v":13.81},{"t":2002.52,"v":13.82},{"t":2002.64,"v":13.83},{"t":2002.76,"v":13.83},{"t":2002.87,"v":13.85},{"t":2002.99,"v":13.90},{"t":2003.08,"v":13.87},{"t":2003.17,"v":13.90},{"t":2003.25,"v":13.90},{"t":2003.34,"v":13.92},{"t":2003.43,"v":14.00},{"t":2003.51,"v":14.03},{"t":2003.60,"v":14.08},{"t":2003.69,"v":14.12},{"t":2003.78,"v":14.10},{"t":2003.90,"v":14.06},{"t":2004.01,"v":14.06},{"t":2004.13,"v":14.09},{"t":2004.25,"v":14.13},{"t":2004.37,"v":14.19},{"t":2004.49,"v":14.23},{"t":2004.60,"v":14.26},{"t":2004.72,"v":14.28},{"t":2004.84,"v":14.31},{"t":2004.93,"v":14.35},{"t":2005.01,"v":14.42},{"t":2005.10,"v":14.48},{"t":2005.19,"v":14.50},{"t":2005.28,"v":14.48},{"t":2005.37,"v":14.55},{"t":2005.48,"v":14.59},{"t":2005.60,"v":14.65},{"t":2005.69,"v":14.68},{"t":2005.81,"v":14.74},{"t":2005.92,"v":14.79},{"t":2006.04,"v":14.85},{"t":2006.16,"v":14.94},{"t":2006.28,"v":15.03},{"t":2006.39,"v":15.05},{"t":2006.51,"v":15.10},{"t":2006.63,"v":15.11},{"t":2006.74,"v":15.17},{"t":2006.86,"v":15.24},{"t":2006.98,"v":15.29},{"t":2007.10,"v":15.32},{"t":2007.21,"v":15.37},{"t":2007.30,"v":15.41},{"t":2007.39,"v":15.48}],
    "FG": [{"t":1996.00,"v":0.0436},{"t":1996.09,"v":0.0514},{"t":1996.16,"v":0.0425},{"t":1996.25,"v":0.0406},{"t":1996.33,"v":0.0350},{"t":1996.42,"v":0.0354},{"t":1996.50,"v":0.0388},{"t":1996.58,"v":0.0390},{"t":1996.67,"v":0.0414},{"t":1996.76,"v":0.0455},{"t":1996.85,"v":0.0391},{"t":1996.94,"v":0.0298},{"t":1997.02,"v":0.0298},{"t":1997.10,"v":0.0164},{"t":1997.18,"v":0.0205},{"t":1997.27,"v":0.0287},{"t":1997.33,"v":0.0269},{"t":1997.42,"v":0.0313},{"t":1997.51,"v":0.0283},{"t":1997.60,"v":0.0261},{"t":1997.67,"v":0.0261},{"t":1997.76,"v":0.0302},{"t":1997.84,"v":0.0328},{"t":1997.93,"v":0.0310},{"t":1998.02,"v":0.0313},{"t":1998.11,"v":0.0369},{"t":1998.17,"v":0.0399},{"t":1998.24,"v":0.0324},{"t":1998.33,"v":0.0369},{"t":1998.42,"v":0.0332},{"t":1998.49,"v":0.0369},{"t":1998.58,"v":0.0376},{"t":1998.67,"v":0.0343},{"t":1998.75,"v":0.0313},{"t":1998.83,"v":0.0321},{"t":1998.91,"v":0.0358},{"t":1999.00,"v":0.0272},{"t":1999.09,"v":0.0302},{"t":1999.16,"v":0.0365},{"t":1999.25,"v":0.0310},{"t":1999.34,"v":0.0343},{"t":1999.41,"v":0.0354},{"t":1999.50,"v":0.0350},{"t":1999.59,"v":0.0358},{"t":1999.68,"v":0.0376},{"t":1999.75,"v":0.0403},{"t":1999.84,"v":0.0432},{"t":1999.93,"v":0.0436},{"t":2000.00,"v":0.0570},{"t":2000.09,"v":0.0596},{"t":2000.18,"v":0.0499},{"t":2000.26,"v":0.0522},{"t":2000.34,"v":0.0548},{"t":2000.43,"v":0.0455},{"t":2000.51,"v":0.0488},{"t":2000.59,"v":0.0492},{"t":2000.67,"v":0.0473},{"t":2000.76,"v":0.0414},{"t":2000.85,"v":0.0388},{"t":2000.92,"v":0.0354},{"t":2001.01,"v":0.0365},{"t":2001.08,"v":0.0291},{"t":2001.17,"v":0.0321},{"t":2001.26,"v":0.0295},{"t":2001.33,"v":0.0249},{"t":2001.42,"v":0.0286},{"t":2001.50,"v":0.0231},{"t":2001.58,"v":0.0235},{"t":2001.67,"v":0.0220},{"t":2001.76,"v":0.0220},{"t":2001.85,"v":0.0228},{"t":2001.92,"v":0.0217},{"t":2002.01,"v":0.0131},{"t":2002.10,"v":0.0146},{"t":2002.18,"v":0.0164},{"t":2002.27,"v":0.0168},{"t":2002.36,"v":0.0198},{"t":2002.43,"v":0.0194},{"t":2002.52,"v":0.0157},{"t":2002.61,"v":0.0164},{"t":2002.70,"v":0.0164},{"t":2002.77,"v":0.0131},{"t":2002.84,"v":0.0135},{"t":2002.93,"v":0.0179},{"t":2003.02,"v":0.0199},{"t":2003.11,"v":0.0138},{"t":2003.20,"v":0.0137},{"t":2003.28,"v":0.0116},{"t":2003.39,"v":0.0075},{"t":2003.46,"v":0.0138},{"t":2003.55,"v":0.0138},{"t":2003.64,"v":0.0168},{"t":2003.72,"v":0.0190},{"t":2003.81,"v":0.0187},{"t":2003.90,"v":0.0153},{"t":2003.99,"v":0.0124},{"t":2004.08,"v":0.0109},{"t":2004.16,"v":0.0146},{"t":2004.25,"v":0.0153},{"t":2004.34,"v":0.0157},{"t":2004.41,"v":0.0199},{"t":2004.49,"v":0.0159},{"t":2004.58,"v":0.0168},{"t":2004.66,"v":0.0135},{"t":2004.75,"v":0.0129},{"t":2004.84,"v":0.0135},{"t":2004.93,"v":0.0211},{"t":2005.01,"v":0.0265},{"t":2005.10,"v":0.0295},{"t":2005.16,"v":0.0317},{"t":2005.23,"v":0.0276},{"t":2005.32,"v":0.0269},{"t":2005.41,"v":0.0266},{"t":2005.50,"v":0.0266},{"t":2005.59,"v":0.0276},{"t":2005.66,"v":0.0286},{"t":2005.75,"v":0.0265},{"t":2005.84,"v":0.0298},{"t":2005.92,"v":0.0291},{"t":2006.00,"v":0.0265},{"t":2006.09,"v":0.0249},{"t":2006.16,"v":0.0250},{"t":2006.25,"v":0.0310},{"t":2006.32,"v":0.0369},{"t":2006.41,"v":0.0336},{"t":2006.48,"v":0.0306},{"t":2006.57,"v":0.0324},{"t":2006.66,"v":0.0295},{"t":2006.74,"v":0.0321},{"t":2006.83,"v":0.0336},{"t":2006.92,"v":0.0336},{"t":2006.99,"v":0.0317},{"t":2007.08,"v":0.0336},{"t":2007.17,"v":0.0321},{"t":2007.26,"v":0.0291},{"t":2007.32,"v":0.0250},{"t":2007.40,"v":0.0301}],
    "O": [{"t":1995.00,"v":10.20},{"t":1995.15,"v":10.20},{"t":1995.29,"v":10.20},{"t":1995.40,"v":10.21},{"t":1995.51,"v":10.28},{"t":1995.65,"v":10.32},{"t":1995.72,"v":10.35},{"t":1995.81,"v":10.35},{"t":1995.91,"v":10.35},{"t":1996.00,"v":10.37},{"t":1996.09,"v":10.35},{"t":1996.17,"v":10.39},{"t":1996.28,"v":10.44},{"t":1996.38,"v":10.45},{"t":1996.50,"v":10.46},{"t":1996.62,"v":10.46},{"t":1996.72,"v":10.49},{"t":1996.82,"v":10.50},{"t":1996.91,"v":10.48},{"t":1997.00,"v":10.48},{"t":1997.09,"v":10.51},{"t":1997.20,"v":10.53},{"t":1997.32,"v":10.55},{"t":1997.44,"v":10.57},{"t":1997.53,"v":10.59},{"t":1997.64,"v":10.58},{"t":1997.73,"v":10.61},{"t":1997.82,"v":10.64},{"t":1997.94,"v":10.66},{"t":1998.04,"v":10.68},{"t":1998.14,"v":10.69},{"t":1998.26,"v":10.69},{"t":1998.35,"v":10.73},{"t":1998.47,"v":10.73},{"t":1998.55,"v":10.76},{"t":1998.67,"v":10.80},{"t":1998.77,"v":10.81},{"t":1998.88,"v":10.84},{"t":1998.96,"v":10.88},{"t":1999.05,"v":10.87},{"t":1999.14,"v":10.89},{"t":1999.24,"v":10.89},{"t":1999.35,"v":10.90},{"t":1999.43,"v":10.93},{"t":1999.52,"v":10.95},{"t":1999.61,"v":10.98},{"t":1999.70,"v":10.95},{"t":1999.79,"v":10.98},{"t":1999.88,"v":11.01},{"t":1999.96,"v":11.02},{"t":2000.05,"v":11.05},{"t":2000.14,"v":11.10},{"t":2000.24,"v":11.11},{"t":2000.34,"v":11.14},{"t":2000.46,"v":11.16},{"t":2000.58,"v":11.18},{"t":2000.68,"v":11.19},{"t":2000.79,"v":11.21},{"t":2000.87,"v":11.23},{"t":2000.96,"v":11.21},{"t":2001.05,"v":11.23},{"t":2001.14,"v":11.26},{"t":2001.23,"v":11.28},{"t":2001.31,"v":11.30},{"t":2001.43,"v":11.31},{"t":2001.55,"v":11.32},{"t":2001.64,"v":11.34},{"t":2001.73,"v":11.38},{"t":2001.81,"v":11.39},{"t":2001.90,"v":11.41},{"t":2001.96,"v":11.45},{"t":2002.05,"v":11.45},{"t":2002.14,"v":11.46},{"t":2002.22,"v":11.47},{"t":2002.31,"v":11.48},{"t":2002.40,"v":11.50},{"t":2002.49,"v":11.50},{"t":2002.58,"v":11.51},{"t":2002.67,"v":11.52},{"t":2002.75,"v":11.54},{"t":2002.84,"v":11.56},{"t":2002.96,"v":11.55},{"t":2003.08,"v":11.55},{"t":2003.16,"v":11.56},{"t":2003.25,"v":11.56},{"t":2003.34,"v":11.57},{"t":2003.43,"v":11.60},{"t":2003.52,"v":11.61},{"t":2003.61,"v":11.63},{"t":2003.69,"v":11.65},{"t":2003.78,"v":11.67},{"t":2003.87,"v":11.69},{"t":2003.96,"v":11.68},{"t":2004.05,"v":11.71},{"t":2004.13,"v":11.71},{"t":2004.22,"v":11.74},{"t":2004.31,"v":11.74},{"t":2004.40,"v":11.76},{"t":2004.49,"v":11.79},{"t":2004.57,"v":11.80},{"t":2004.66,"v":11.80},{"t":2004.75,"v":11.82},{"t":2004.84,"v":11.85},{"t":2004.93,"v":11.88},{"t":2005.01,"v":11.89},{"t":2005.10,"v":11.90},{"t":2005.19,"v":11.92},{"t":2005.28,"v":11.90},{"t":2005.37,"v":11.92},{"t":2005.46,"v":11.93},{"t":2005.54,"v":11.94},{"t":2005.63,"v":11.96},{"t":2005.72,"v":11.96},{"t":2005.81,"v":11.99},{"t":2005.90,"v":12.00},{"t":2005.99,"v":12.01},{"t":2006.07,"v":12.03},{"t":2006.16,"v":12.05},{"t":2006.25,"v":12.05},{"t":2006.34,"v":12.06},{"t":2006.43,"v":12.07},{"t":2006.52,"v":12.08},{"t":2006.60,"v":12.09},{"t":2006.69,"v":12.11},{"t":2006.78,"v":12.12},{"t":2006.87,"v":12.13},{"t":2006.95,"v":12.17},{"t":2007.04,"v":12.19},{"t":2007.13,"v":12.19},{"t":2007.22,"v":12.20},{"t":2007.31,"v":12.23},{"t":2007.37,"v":12.23}],
    "OG": [{"t":1995.99,"v":0.0169},{"t":1996.08,"v":0.0147},{"t":1996.16,"v":0.0192},{"t":1996.24,"v":0.0216},{"t":1996.33,"v":0.0238},{"t":1996.41,"v":0.0216},{"t":1996.50,"v":0.0191},{"t":1996.59,"v":0.0167},{"t":1996.66,"v":0.0154},{"t":1996.74,"v":0.0128},{"t":1996.81,"v":0.0153},{"t":1996.89,"v":0.0151},{"t":1996.97,"v":0.0102},{"t":1997.06,"v":0.0145},{"t":1997.15,"v":0.0132},{"t":1997.24,"v":0.0109},{"t":1997.31,"v":0.0095},{"t":1997.40,"v":0.0112},{"t":1997.49,"v":0.0117},{"t":1997.58,"v":0.0128},{"t":1997.67,"v":0.0117},{"t":1997.74,"v":0.0098},{"t":1997.83,"v":0.0122},{"t":1997.92,"v":0.0143},{"t":1998.00,"v":0.0164},{"t":1998.09,"v":0.0161},{"t":1998.17,"v":0.0156},{"t":1998.24,"v":0.0165},{"t":1998.33,"v":0.0144},{"t":1998.40,"v":0.0164},{"t":1998.49,"v":0.0144},{"t":1998.58,"v":0.0143},{"t":1998.67,"v":0.0186},{"t":1998.74,"v":0.0206},{"t":1998.83,"v":0.0165},{"t":1998.90,"v":0.0171},{"t":1998.99,"v":0.0216},{"t":1999.08,"v":0.0181},{"t":1999.15,"v":0.0161},{"t":1999.24,"v":0.0188},{"t":1999.33,"v":0.0187},{"t":1999.42,"v":0.0151},{"t":1999.51,"v":0.0174},{"t":1999.58,"v":0.0188},{"t":1999.67,"v":0.0181},{"t":1999.74,"v":0.0132},{"t":1999.83,"v":0.0149},{"t":1999.90,"v":0.0154},{"t":1999.99,"v":0.0130},{"t":2000.08,"v":0.0132},{"t":2000.15,"v":0.0212},{"t":2000.24,"v":0.0177},{"t":2000.33,"v":0.0201},{"t":2000.40,"v":0.0225},{"t":2000.49,"v":0.0216},{"t":2000.58,"v":0.0206},{"t":2000.67,"v":0.0192},{"t":2000.74,"v":0.0238},{"t":2000.83,"v":0.0225},{"t":2000.91,"v":0.0224},{"t":2000.99,"v":0.0169},{"t":2001.08,"v":0.0188},{"t":2001.17,"v":0.0145},{"t":2001.26,"v":0.0164},{"t":2001.35,"v":0.0154},{"t":2001.44,"v":0.0140},{"t":2001.53,"v":0.0134},{"t":2001.62,"v":0.0129},{"t":2001.71,"v":0.0137},{"t":2001.78,"v":0.0158},{"t":2001.87,"v":0.0135},{"t":2001.95,"v":0.0217},{"t":2002.04,"v":0.0191},{"t":2002.13,"v":0.0181},{"t":2002.22,"v":0.0175},{"t":2002.30,"v":0.0167},{"t":2002.39,"v":0.0175},{"t":2002.48,"v":0.0166},{"t":2002.57,"v":0.0169},{"t":2002.66,"v":0.0167},{"t":2002.75,"v":0.0120},{"t":2002.84,"v":0.0148},{"t":2002.91,"v":0.0145},{"t":2003.00,"v":0.0092},{"t":2003.09,"v":0.0086},{"t":2003.17,"v":0.0100},{"t":2003.26,"v":0.0078},{"t":2003.35,"v":0.0078},{"t":2003.44,"v":0.0079},{"t":2003.53,"v":0.0092},{"t":2003.62,"v":0.0095},{"t":2003.70,"v":0.0090},{"t":2003.79,"v":0.0101},{"t":2003.88,"v":0.0109},{"t":2003.95,"v":0.0119},{"t":2004.03,"v":0.0107},{"t":2004.12,"v":0.0134},{"t":2004.20,"v":0.0127},{"t":2004.29,"v":0.0161},{"t":2004.38,"v":0.0135},{"t":2004.47,"v":0.0140},{"t":2004.56,"v":0.0149},{"t":2004.65,"v":0.0156},{"t":2004.73,"v":0.0140},{"t":2004.82,"v":0.0122},{"t":2004.91,"v":0.0120},{"t":2005.00,"v":0.0162},{"t":2005.09,"v":0.0160},{"t":2005.16,"v":0.0148},{"t":2005.25,"v":0.0180},{"t":2005.32,"v":0.0134},{"t":2005.41,"v":0.0139},{"t":2005.50,"v":0.0146},{"t":2005.59,"v":0.0122},{"t":2005.68,"v":0.0129},{"t":2005.77,"v":0.0138},{"t":2005.85,"v":0.0141},{"t":2005.94,"v":0.0114},{"t":2006.03,"v":0.0112},{"t":2006.12,"v":0.0145},{"t":2006.21,"v":0.0113},{"t":2006.30,"v":0.0132},{"t":2006.38,"v":0.0139},{"t":2006.46,"v":0.0120},{"t":2006.55,"v":0.0125},{"t":2006.63,"v":0.0132},{"t":2006.72,"v":0.0134},{"t":2006.81,"v":0.0118},{"t":2006.90,"v":0.0113},{"t":2006.99,"v":0.0150},{"t":2007.08,"v":0.0148},{"t":2007.17,"v":0.0114},{"t":2007.25,"v":0.0134},{"t":2007.34,"v":0.0148},{"t":2007.43,"v":0.0130}]
  },
  "concat": [
    {
      "title": {"text": "Agriculture, Value added", "dx": 36, "dy": 2},
      "width": 302, "height": 268,
      "data": {"name": "A"},
      "encoding": {
        "x": {"field": "t", "type": "quantitative", "scale": {"domain": [1994.7, 2007.95], "nice": false, "zero": false}, "axis": {"tickCount": 100, "tickMinStep": 0.0001, "labelOverlap": false, "values": [1995,1996,1997,1998,1999,2000,2001,2002,2003,2004,2005,2006,2007], "format": "d", "labelExpr": "datum.value % 5 === 0 ? datum.label : ''", "tickSize": {"condition": {"test": "datum.value % 5 === 0", "value": -12}, "value": -6}}},
        "y": {"field": "v", "type": "quantitative", "scale": {"domain": [1.06, 1.32], "nice": false, "zero": false}, "axis": {"tickCount": 100, "tickMinStep": 0.0001, "labelOverlap": false, "values": [1.08,1.1,1.12,1.14,1.16,1.18,1.2,1.22,1.24,1.26,1.28,1.3], "format": ".1f", "labelExpr": "indexof([1.1,1.2,1.3], datum.value) >= 0 ? datum.label : ''", "tickSize": {"condition": {"test": "indexof([1.1,1.2,1.3], datum.value) >= 0", "value": -12}, "value": -6}}}
      },
      "layer": [
        {"mark": {"type": "line", "stroke": "#ff2020", "strokeOpacity": 0.13, "strokeWidth": 10, "strokeJoin": "round", "clip": true}},
        {"mark": {"type": "line", "stroke": "#ff2020", "strokeOpacity": 0.2, "strokeWidth": 5.5, "strokeJoin": "round", "clip": true}},
        {"mark": {"type": "line", "stroke": "#0000ff", "strokeWidth": 1.4, "clip": true}}
      ]
    },
    {
      "title": {"text": "yearly growth", "dx": 33, "dy": 14},
      "width": 302, "height": 268,
      "layer": [
        {"data": {"values": [{}]}, "mark": {"type": "rule", "stroke": "#808080", "strokeWidth": 1.2}, "encoding": {"y": {"datum": 0, "type": "quantitative"}}},
        {
          "data": {"name": "AG"},
          "encoding": {
            "x": {"field": "t", "type": "quantitative", "scale": {"domain": [1994.7, 2007.95], "nice": false, "zero": false}, "axis": {"tickCount": 100, "tickMinStep": 0.0001, "labelOverlap": false, "values": [1995,1996,1997,1998,1999,2000,2001,2002,2003,2004,2005,2006,2007], "format": "d", "labelExpr": "datum.value % 5 === 0 ? datum.label : ''", "tickSize": {"condition": {"test": "datum.value % 5 === 0", "value": -12}, "value": -6}}},
            "y": {"field": "v", "type": "quantitative", "scale": {"domain": [-0.15, 0.2], "nice": false, "zero": false}, "axis": {"tickCount": 100, "tickMinStep": 0.0001, "labelOverlap": false, "values": [-0.1,-0.05,0,0.05,0.1,0.15,0.2], "format": ".1f", "labelExpr": "indexof([-0.1,0,0.1,0.2], datum.value) >= 0 ? datum.label : ''", "tickSize": {"condition": {"test": "indexof([-0.1,0,0.1,0.2], datum.value) >= 0", "value": -12}, "value": -6}}}
          },
          "layer": [
            {"mark": {"type": "line", "stroke": "#ff2020", "strokeOpacity": 0.13, "strokeWidth": 9, "strokeJoin": "round", "clip": true}},
            {"mark": {"type": "line", "stroke": "#ff2020", "strokeOpacity": 0.2, "strokeWidth": 5, "strokeJoin": "round", "clip": true}},
            {"mark": {"type": "line", "stroke": "#0000ff", "strokeWidth": 1.4, "clip": true}}
          ]
        }
      ]
    },
    {
      "title": {"text": "Industry, Value added", "dx": 36, "dy": 14},
      "width": 302, "height": 268,
      "data": {"name": "I"},
      "encoding": {
        "x": {"field": "t", "type": "quantitative", "scale": {"domain": [1994.7, 2007.95], "nice": false, "zero": false}, "axis": {"tickCount": 100, "tickMinStep": 0.0001, "labelOverlap": false, "values": [1995,1996,1997,1998,1999,2000,2001,2002,2003,2004,2005,2006,2007], "format": "d", "labelExpr": "datum.value % 5 === 0 ? datum.label : ''", "tickSize": {"condition": {"test": "datum.value % 5 === 0", "value": -12}, "value": -6}}},
        "y": {"field": "v", "type": "quantitative", "scale": {"domain": [9.5, 13], "nice": false, "zero": false}, "axis": {"tickCount": 100, "tickMinStep": 0.0001, "labelOverlap": false, "values": [10,10.5,11,11.5,12,12.5,13], "format": "d", "labelExpr": "indexof([10,11,12,13], datum.value) >= 0 ? datum.label : ''", "tickSize": {"condition": {"test": "indexof([10,11,12,13], datum.value) >= 0", "value": -12}, "value": -6}}}
      },
      "layer": [
        {"mark": {"type": "line", "stroke": "#ff2020", "strokeOpacity": 0.2, "strokeWidth": 2.5, "strokeJoin": "round", "clip": true}},
        {"mark": {"type": "line", "stroke": "#0000ff", "strokeWidth": 1.4, "clip": true}}
      ]
    },
    {
      "title": {"text": "yearly growth", "dx": 33, "dy": 2},
      "width": 302, "height": 268,
      "layer": [
        {"data": {"values": [{}]}, "mark": {"type": "rule", "stroke": "#808080", "strokeWidth": 1.2}, "encoding": {"y": {"datum": 0, "type": "quantitative"}}},
        {
          "data": {"name": "IG"},
          "encoding": {
            "x": {"field": "t", "type": "quantitative", "scale": {"domain": [1994.7, 2007.95], "nice": false, "zero": false}, "axis": {"tickCount": 100, "tickMinStep": 0.0001, "labelOverlap": false, "values": [1995,1996,1997,1998,1999,2000,2001,2002,2003,2004,2005,2006,2007], "format": "d", "labelExpr": "datum.value % 5 === 0 ? datum.label : ''", "tickSize": {"condition": {"test": "datum.value % 5 === 0", "value": -12}, "value": -6}}},
            "y": {"field": "v", "type": "quantitative", "scale": {"domain": [-0.03, 0.08], "nice": false, "zero": false}, "axis": {"tickCount": 100, "tickMinStep": 0.0001, "labelOverlap": false, "values": [-0.02,-0.01,0,0.01,0.02,0.03,0.04,0.05,0.06,0.07], "format": ".2f", "labelExpr": "indexof([0,0.05], datum.value) >= 0 ? datum.label : ''", "tickSize": {"condition": {"test": "indexof([0,0.05], datum.value) >= 0", "value": -12}, "value": -6}}}
          },
          "layer": [
            {"mark": {"type": "line", "stroke": "#ff2020", "strokeOpacity": 0.2, "strokeWidth": 4.5, "strokeJoin": "round", "clip": true}},
            {"mark": {"type": "line", "stroke": "#0000ff", "strokeWidth": 1.4, "clip": true}}
          ]
        }
      ]
    },
    {
      "title": {"text": "Construction, Value added", "dx": 36, "dy": 2},
      "width": 302, "height": 268,
      "data": {"name": "C"},
      "encoding": {
        "x": {"field": "t", "type": "quantitative", "scale": {"domain": [1994.7, 2007.95], "nice": false, "zero": false}, "axis": {"tickCount": 100, "tickMinStep": 0.0001, "labelOverlap": false, "values": [1995,1996,1997,1998,1999,2000,2001,2002,2003,2004,2005,2006,2007], "format": "d", "labelExpr": "datum.value % 5 === 0 ? datum.label : ''", "tickSize": {"condition": {"test": "datum.value % 5 === 0", "value": -12}, "value": -6}}},
        "y": {"field": "v", "type": "quantitative", "scale": {"domain": [2.5, 3.375], "nice": false, "zero": false}, "axis": {"tickCount": 100, "tickMinStep": 0.0001, "labelOverlap": false, "values": [2.625,2.75,2.875,3,3.125,3.25], "format": ".2f", "labelExpr": "indexof([2.75,3,3.25], datum.value) >= 0 ? datum.label : ''", "tickSize": {"condition": {"test": "indexof([2.75,3,3.25], datum.value) >= 0", "value": -12}, "value": -6}}}
      },
      "layer": [
        {"mark": {"type": "line", "stroke": "#ff2020", "strokeOpacity": 0.15, "strokeWidth": 7, "strokeJoin": "round", "clip": true}},
        {"mark": {"type": "line", "stroke": "#0000ff", "strokeWidth": 1.4, "clip": true}}
      ]
    },
    {
      "title": {"text": "yearly growth", "dx": 33, "dy": 2},
      "width": 302, "height": 268,
      "layer": [
        {"data": {"values": [{}]}, "mark": {"type": "rule", "stroke": "#a0a0a0", "strokeWidth": 1.5}, "encoding": {"y": {"datum": 0, "type": "quantitative"}}},
        {
          "data": {"name": "CG"},
          "encoding": {
            "x": {"field": "t", "type": "quantitative", "scale": {"domain": [1994.7, 2007.95], "nice": false, "zero": false}, "axis": {"tickCount": 100, "tickMinStep": 0.0001, "labelOverlap": false, "values": [1995,1996,1997,1998,1999,2000,2001,2002,2003,2004,2005,2006,2007], "format": "d", "labelExpr": "datum.value % 5 === 0 ? datum.label : ''", "tickSize": {"condition": {"test": "datum.value % 5 === 0", "value": -12}, "value": -6}}},
            "y": {"field": "v", "type": "quantitative", "scale": {"domain": [-0.14, 0.12], "nice": false, "zero": false}, "axis": {"tickCount": 100, "tickMinStep": 0.0001, "labelOverlap": false, "values": [-0.12,-0.1,-0.08,-0.06,-0.04,-0.02,0,0.02,0.04,0.06,0.08,0.1], "format": ".1f", "labelExpr": "indexof([-0.1,0,0.1], datum.value) >= 0 ? datum.label : ''", "tickSize": {"condition": {"test": "indexof([-0.1,0,0.1], datum.value) >= 0", "value": -12}, "value": -6}}}
          },
          "layer": [
            {"mark": {"type": "line", "stroke": "#ff2020", "strokeOpacity": 0.13, "strokeWidth": 8, "strokeJoin": "round", "clip": true}},
            {"mark": {"type": "line", "stroke": "#ff2020", "strokeOpacity": 0.18, "strokeWidth": 4.5, "strokeJoin": "round", "clip": true}},
            {"mark": {"type": "line", "stroke": "#0000ff", "strokeWidth": 1.4, "clip": true}}
          ]
        }
      ]
    },
    {
      "title": {"text": "Trade, Value added", "dx": 36, "dy": 2},
      "width": 302, "height": 268,
      "data": {"name": "T"},
      "encoding": {
        "x": {"field": "t", "type": "quantitative", "scale": {"domain": [1994.7, 2007.95], "nice": false, "zero": false}, "axis": {"tickCount": 100, "tickMinStep": 0.0001, "labelOverlap": false, "values": [1995,1996,1997,1998,1999,2000,2001,2002,2003,2004,2005,2006,2007], "format": "d", "labelExpr": "datum.value % 5 === 0 ? datum.label : ''", "tickSize": {"condition": {"test": "datum.value % 5 === 0", "value": -12}, "value": -6}}},
        "y": {"field": "v", "type": "quantitative", "scale": {"domain": [8.8, 12.2], "nice": false, "zero": false}, "axis": {"tickCount": 100, "tickMinStep": 0.0001, "labelOverlap": false, "values": [9.2,9.6,10,10.4,10.8,11.2,11.6,12], "format": "d", "labelExpr": "indexof([10,12], datum.value) >= 0 ? datum.label : ''", "tickSize": {"condition": {"test": "indexof([10,12], datum.value) >= 0", "value": -12}, "value": -6}}}
      },
      "layer": [
        {"mark": {"type": "line", "stroke": "#ff2020", "strokeOpacity": 0.15, "strokeWidth": 2.5, "strokeJoin": "round", "clip": true}},
        {"mark": {"type": "line", "stroke": "#0000ff", "strokeWidth": 1.4, "clip": true}}
      ]
    },
    {
      "title": {"text": "yearly growth", "dx": 33, "dy": 14},
      "width": 302, "height": 268,
      "layer": [
        {"data": {"values": [{}]}, "mark": {"type": "rule", "stroke": "#808080", "strokeWidth": 1.2}, "encoding": {"y": {"datum": 0, "type": "quantitative"}}},
        {
          "data": {"name": "TG"},
          "encoding": {
            "x": {"field": "t", "type": "quantitative", "scale": {"domain": [1994.7, 2007.95], "nice": false, "zero": false}, "axis": {"tickCount": 100, "tickMinStep": 0.0001, "labelOverlap": false, "values": [1995,1996,1997,1998,1999,2000,2001,2002,2003,2004,2005,2006,2007], "format": "d", "labelExpr": "datum.value % 5 === 0 ? datum.label : ''", "tickSize": {"condition": {"test": "datum.value % 5 === 0", "value": -12}, "value": -6}}},
            "y": {"field": "v", "type": "quantitative", "scale": {"domain": [-0.0125, 0.075], "nice": false, "zero": false}, "axis": {"tickCount": 100, "tickMinStep": 0.0001, "labelOverlap": false, "values": [0,0.0125,0.025,0.0375,0.05,0.0625,0.075], "format": ".3f", "labelExpr": "indexof([0,0.025,0.05,0.075], datum.value) >= 0 ? datum.label : ''", "tickSize": {"condition": {"test": "indexof([0,0.025,0.05,0.075], datum.value) >= 0", "value": -12}, "value": -6}}}
          },
          "layer": [
            {"mark": {"type": "line", "stroke": "#ff2020", "strokeOpacity": 0.2, "strokeWidth": 5, "strokeJoin": "round", "clip": true}},
            {"mark": {"type": "line", "stroke": "#0000ff", "strokeWidth": 1.4, "clip": true}}
          ]
        }
      ]
    },
    {
      "title": {"text": "Financial services, V Added", "dx": 36, "dy": 2},
      "width": 302, "height": 268,
      "data": {"name": "F"},
      "encoding": {
        "x": {"field": "t", "type": "quantitative", "scale": {"domain": [1994.7, 2007.95], "nice": false, "zero": false}, "axis": {"tickCount": 100, "tickMinStep": 0.0001, "labelOverlap": false, "values": [1995,1996,1997,1998,1999,2000,2001,2002,2003,2004,2005,2006,2007], "format": "d", "labelExpr": "datum.value % 5 === 0 ? datum.label : ''", "tickSize": {"condition": {"test": "datum.value % 5 === 0", "value": -12}, "value": -6}}},
        "y": {"field": "v", "type": "quantitative", "scale": {"domain": [10.4, 15.6], "nice": false, "zero": false}, "axis": {"tickCount": 100, "tickMinStep": 0.0001, "labelOverlap": false, "values": [10.8,11.2,11.6,12,12.4,12.8,13.2,13.6,14,14.4,14.8,15.2], "format": "d", "labelExpr": "indexof([12,14], datum.value) >= 0 ? datum.label : ''", "tickSize": {"condition": {"test": "indexof([12,14], datum.value) >= 0", "value": -12}, "value": -6}}}
      },
      "layer": [
        {"mark": {"type": "line", "stroke": "#ff2020", "strokeOpacity": 0.15, "strokeWidth": 2.5, "strokeJoin": "round", "clip": true}},
        {"mark": {"type": "line", "stroke": "#0000ff", "strokeWidth": 1.4, "clip": true}}
      ]
    },
    {
      "title": {"text": "yearly growth", "dx": 33, "dy": 2},
      "width": 302, "height": 268,
      "data": {"name": "FG"},
      "encoding": {
        "x": {"field": "t", "type": "quantitative", "scale": {"domain": [1994.7, 2007.95], "nice": false, "zero": false}, "axis": {"tickCount": 100, "tickMinStep": 0.0001, "labelOverlap": false, "values": [1995,1996,1997,1998,1999,2000,2001,2002,2003,2004,2005,2006,2007], "format": "d", "labelExpr": "datum.value % 5 === 0 ? datum.label : ''", "tickSize": {"condition": {"test": "datum.value % 5 === 0", "value": -12}, "value": -6}}},
        "y": {"field": "v", "type": "quantitative", "scale": {"domain": [0.005, 0.065], "nice": false, "zero": false}, "axis": {"tickCount": 100, "tickMinStep": 0.0001, "labelOverlap": false, "values": [0.01,0.015,0.02,0.025,0.03,0.035,0.04,0.045,0.05,0.055,0.06], "format": ".3f", "labelExpr": "indexof([0.025,0.05], datum.value) >= 0 ? datum.label : ''", "tickSize": {"condition": {"test": "indexof([0.025,0.05], datum.value) >= 0", "value": -12}, "value": -6}}}
      },
      "layer": [
        {"mark": {"type": "line", "stroke": "#ff2020", "strokeOpacity": 0.13, "strokeWidth": 10, "strokeJoin": "round", "clip": true}},
        {"mark": {"type": "line", "stroke": "#ff2020", "strokeOpacity": 0.2, "strokeWidth": 5.5, "strokeJoin": "round", "clip": true}},
        {"mark": {"type": "line", "stroke": "#0000ff", "strokeWidth": 1.4, "clip": true}}
      ]
    },
    {
      "title": {"text": "Other services, Value added", "dx": 36, "dy": 2},
      "width": 302, "height": 268,
      "data": {"name": "O"},
      "encoding": {
        "x": {"field": "t", "type": "quantitative", "scale": {"domain": [1994.7, 2007.95], "nice": false, "zero": false}, "axis": {"tickCount": 100, "tickMinStep": 0.0001, "labelOverlap": false, "values": [1995,1996,1997,1998,1999,2000,2001,2002,2003,2004,2005,2006,2007], "format": "d", "labelExpr": "datum.value % 5 === 0 ? datum.label : ''", "tickSize": {"condition": {"test": "datum.value % 5 === 0", "value": -12}, "value": -6}}},
        "y": {"field": "v", "type": "quantitative", "scale": {"domain": [10, 12.4], "nice": false, "zero": false}, "axis": {"tickCount": 100, "tickMinStep": 0.0001, "labelOverlap": false, "values": [10.2,10.4,10.6,10.8,11,11.2,11.4,11.6,11.8,12,12.2], "format": "d", "labelExpr": "indexof([11,12], datum.value) >= 0 ? datum.label : ''", "tickSize": {"condition": {"test": "indexof([11,12], datum.value) >= 0", "value": -12}, "value": -6}}}
      },
      "layer": [
        {"mark": {"type": "line", "stroke": "#ff2020", "strokeOpacity": 0.15, "strokeWidth": 2.5, "strokeJoin": "round", "clip": true}},
        {"mark": {"type": "line", "stroke": "#0000ff", "strokeWidth": 1.4, "clip": true}}
      ]
    },
    {
      "title": {"text": "yearly growth", "dx": 33, "dy": 2},
      "width": 302, "height": 268,
      "data": {"name": "OG"},
      "encoding": {
        "x": {"field": "t", "type": "quantitative", "scale": {"domain": [1994.7, 2007.95], "nice": false, "zero": false}, "axis": {"tickCount": 100, "tickMinStep": 0.0001, "labelOverlap": false, "values": [1995,1996,1997,1998,1999,2000,2001,2002,2003,2004,2005,2006,2007], "format": "d", "labelExpr": "datum.value % 5 === 0 ? datum.label : ''", "tickSize": {"condition": {"test": "datum.value % 5 === 0", "value": -12}, "value": -6}}},
        "y": {"field": "v", "type": "quantitative", "scale": {"domain": [0.006, 0.026], "nice": false, "zero": false}, "axis": {"tickCount": 100, "tickMinStep": 0.0001, "labelOverlap": false, "values": [0.008,0.01,0.012,0.014,0.016,0.018,0.02,0.022,0.024], "format": ".2f", "labelExpr": "indexof([0.01,0.02], datum.value) >= 0 ? datum.label : ''", "tickSize": {"condition": {"test": "indexof([0.01,0.02], datum.value) >= 0", "value": -12}, "value": -6}}}
      },
      "layer": [
        {"mark": {"type": "line", "stroke": "#ff2020", "strokeOpacity": 0.13, "strokeWidth": 11, "strokeJoin": "round", "clip": true}},
        {"mark": {"type": "line", "stroke": "#ff2020", "strokeOpacity": 0.2, "strokeWidth": 6, "strokeJoin": "round", "clip": true}},
        {"mark": {"type": "line", "stroke": "#0000ff", "strokeWidth": 1.4, "clip": true}}
      ]
    }
  ]
}
